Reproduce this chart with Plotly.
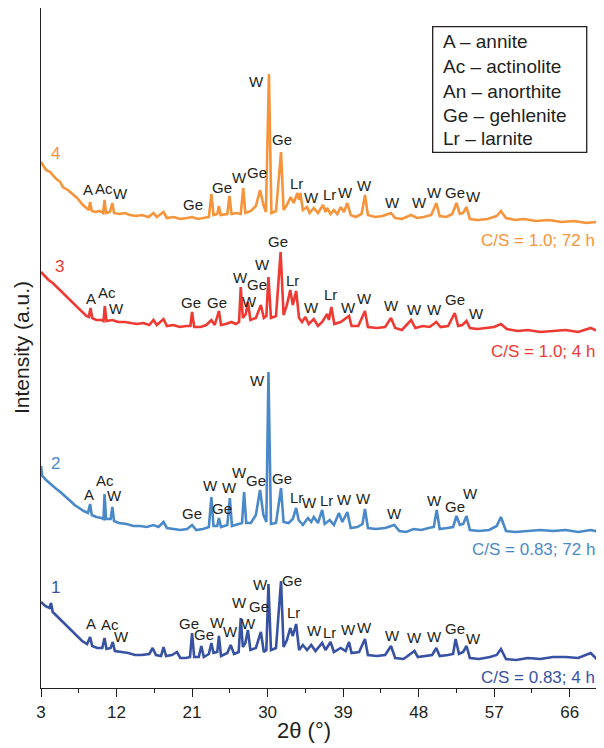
import plotly.graph_objects as go

# XRD patterns, 2theta (deg) vs intensity (a.u., curves stacked with offsets)
theta_4 = [3.0, 3.6, 4.1, 4.7, 5.3, 5.6, 6.2, 6.7, 7.3, 8.0, 8.5, 8.7, 8.85, 9.05, 9.5, 10.0,
           10.4, 10.57, 10.75, 11.2, 11.5, 11.7, 12.3, 13.0, 13.6, 14.3, 15.0, 15.8, 16.4,
           16.8, 17.6, 18.0, 18.8, 19.6, 20.4, 21.0, 21.7, 22.5, 23.0, 23.31, 23.55, 24.0,
           24.2, 24.4, 25.2, 25.46, 25.7, 26.3, 26.8, 27.1, 27.35, 28.0, 28.6, 29.1, 29.5,
           29.8, 30.16, 30.45, 31.0, 31.6, 31.9, 32.3, 32.75, 33.1, 33.55, 33.75, 33.9, 34.2,
           34.7, 35.0, 35.5, 36.0, 36.6, 36.9, 37.1, 37.5, 37.9, 38.3, 38.7, 39.1, 39.5, 39.9,
           40.5, 41.2, 41.6, 41.95, 42.8, 43.7, 44.7, 45.2, 46.0, 47.1, 47.8, 48.6, 49.5,
           50.1, 50.5, 51.3, 52.0, 52.5, 52.9, 53.3, 53.7, 54.1, 55.0, 56.2, 57.3, 57.8, 58.4,
           59.5, 60.5, 62.0, 63.5, 65.0, 66.5, 68.0, 69.0, 70.1]
int_4 = [526, 518, 516, 510, 506, 501, 498, 494, 490, 483, 480, 478, 486, 477, 476, 477,
         475, 488, 475, 476, 485, 475, 474, 475, 473, 472, 473, 471, 475,
         471, 476, 470, 471, 469, 470, 471, 469, 470, 471, 494, 473, 474,
         482, 473, 474, 492, 474, 475, 474, 500, 475, 477, 482, 498, 483,
         476, 614, 475, 477, 536, 478, 483, 491, 485, 495, 488, 495, 478,
         481, 475, 480, 475, 483, 476, 480, 474, 478, 474, 481, 476, 485, 473,
         471, 474, 493, 473, 471, 472, 475, 470, 469, 473, 470, 471, 473,
         485, 472, 471, 474, 485, 474, 475, 481, 469, 468, 469, 472, 477, 470,
         468, 469, 467, 468, 466, 467, 465, 466, 465]

theta_3 = [3.0, 3.4, 3.9, 4.4, 4.9, 5.4, 5.9, 6.4, 6.9, 7.4, 7.9, 8.4, 8.7, 8.9, 9.1, 9.6,
           10.2, 10.45, 10.6, 10.8, 11.5, 12.2, 13.0, 13.6, 14.4, 15.2, 15.9, 16.4, 16.8,
           17.6, 18.0, 18.8, 19.5, 20.3, 20.8, 21.0, 21.25, 22.0, 22.7, 23.3, 23.7, 24.2,
           24.45, 25.0, 25.7, 26.2, 26.6, 26.8, 27.05, 27.4, 27.65, 27.95, 28.6, 29.2, 29.55,
           29.85, 30.1, 30.4, 31.0, 31.55, 31.9, 32.3, 32.7, 33.0, 33.4, 33.75, 34.1, 34.5,
           34.9, 35.5, 36.0, 36.5, 37.1, 37.3, 37.6, 37.95, 38.7, 39.7, 40.0, 40.8, 41.6,
           41.95, 43.0, 44.0, 44.7, 45.2, 46.0, 47.1, 47.6, 48.5, 49.3, 50.1, 50.6, 51.5,
           52.3, 52.7, 53.2, 53.7, 54.1, 55.0, 56.0, 57.0, 57.8, 58.5, 59.8, 61.0, 62.5,
           64.0, 65.5, 67.0, 68.5, 69.3, 70.1]
int_3 = [416, 412, 408, 405, 401, 397, 393, 389, 385, 380, 376, 372, 371, 380, 370, 368,
         368, 367, 382, 367, 368, 366, 366, 365, 364, 365, 363, 368, 363,
         369, 362, 363, 361, 362, 362, 376, 361, 361, 363, 368, 363, 377,
         363, 364, 366, 364, 366, 401, 370, 374, 386, 368, 370, 383, 370,
         372, 411, 370, 372, 436, 373, 383, 398, 383, 397, 370, 366, 371,
         364, 369, 362, 366, 374, 368, 381, 364, 366, 372, 362, 362, 377,
         361, 360, 361, 370, 360, 358, 368, 360, 362, 361, 366, 361, 362,
         375, 362, 363, 367, 360, 359, 360, 361, 364, 359, 357, 358, 356,
         357, 358, 356, 360, 357, 355]

theta_2 = [3.0, 3.15, 3.6, 4.1, 4.7, 5.3, 5.9, 6.5, 7.0, 7.5, 8.1, 8.6, 8.85, 9.05, 9.6,
           10.2, 10.45, 10.57, 10.75, 11.3, 11.5, 11.7, 12.3, 13.2, 14.0, 14.8, 15.6, 16.4,
           17.0, 17.6, 18.0, 18.8, 19.6, 20.4, 21.0, 21.5, 22.3, 23.0, 23.3, 23.55, 24.0,
           24.2, 24.45, 25.2, 25.5, 25.75, 26.5, 26.95, 27.2, 27.45, 28.0, 28.6, 29.1, 29.5,
           29.85, 30.1, 30.4, 31.0, 31.6, 31.9, 32.5, 33.0, 33.4, 33.7, 34.2, 34.8, 35.2,
           35.5, 36.0, 36.5, 36.8, 37.4, 37.9, 38.5, 38.9, 39.5, 39.9, 40.7, 41.3, 41.6,
           41.95, 42.9, 44.0, 45.1, 45.7, 46.5, 47.4, 48.3, 49.2, 49.8, 50.15, 50.5, 51.4,
           52.1, 52.5, 52.9, 53.3, 53.7, 54.1, 55.2, 56.4, 57.3, 57.8, 58.4, 59.5, 61.0,
           62.5, 64.0, 65.5, 67.0, 68.5, 70.1]
int_2 = [222, 212, 208, 204, 200, 196, 191, 187, 183, 180, 177, 175, 184, 173, 171,
         170, 169, 194, 169, 169, 181, 167, 165, 164, 162, 162, 161, 163,
         161, 166, 160, 159, 158, 159, 163, 158, 159, 161, 191, 162, 162,
         170, 161, 163, 190, 162, 164, 165, 196, 165, 165, 173, 198, 173,
         166, 316, 164, 165, 200, 166, 165, 169, 180, 168, 163, 170, 166,
         171, 165, 178, 164, 168, 163, 175, 166, 176, 160, 161, 164, 179,
         160, 159, 160, 163, 157, 156, 159, 158, 160, 161, 178, 159, 160,
         161, 172, 163, 164, 172, 158, 157, 158, 162, 171, 157, 156, 157,
         158, 157, 158, 156, 158, 155]

theta_1 = [3.0, 3.5, 4.0, 4.2, 4.4, 5.0, 5.5, 6.1, 6.7, 7.3, 7.9, 8.5, 8.85, 9.1, 9.7,
           10.3, 10.57, 10.8, 11.3, 11.55, 11.8, 12.6, 13.4, 14.2, 15.0, 15.9, 16.3, 16.7,
           17.3, 17.6, 17.9, 18.6, 19.2, 19.6, 20.3, 20.75, 21.0, 21.25, 21.8, 22.1, 22.4,
           23.0, 23.3, 23.55, 24.0, 24.2, 24.45, 25.2, 25.6, 26.0, 26.55, 26.8, 27.05, 27.35,
           27.65, 27.95, 28.6, 29.2, 29.55, 29.85, 30.1, 30.4, 31.0, 31.6, 31.9, 32.3, 32.7,
           33.0, 33.4, 33.75, 34.2, 34.7, 35.2, 35.7, 36.5, 36.9, 37.5, 37.9, 38.7, 39.3,
           39.7, 40.0, 40.9, 41.6, 41.95, 43.0, 44.0, 44.7, 45.2, 46.2, 47.5, 47.9, 48.8,
           49.6, 50.1, 50.5, 51.5, 52.1, 52.4, 52.8, 53.3, 53.7, 54.1, 55.2, 56.5, 57.3,
           57.8, 58.4, 59.6, 61.0, 62.5, 64.0, 65.5, 67.0, 68.5, 69.2, 70.1]
int_1 = [86, 82, 80, 85, 76, 71, 66, 61, 56, 51, 47, 44, 51, 42, 40,
         40, 50, 39, 40, 46, 37, 36, 35, 33, 33, 34, 40, 33,
         32, 41, 32, 33, 36, 30, 30, 31, 55, 31, 31, 42, 31,
         34, 45, 35, 36, 52, 32, 35, 43, 34, 36, 70, 41, 45,
         58, 38, 40, 56, 36, 38, 104, 38, 40, 107, 41, 48, 60,
         52, 64, 38, 43, 38, 43, 37, 45, 38, 46, 36, 40, 37,
         46, 35, 36, 49, 33, 32, 33, 42, 30, 29, 37, 31, 32,
         33, 40, 32, 33, 34, 49, 34, 36, 42, 30, 29, 31, 33,
         39, 29, 28, 30, 29, 31, 31, 30, 35, 29, 28]

# phase labels: (text, 2theta, intensity)
peaks_4 = [("A", 8.65, 499), ("Ac", 10.54, 500), ("W", 12.43, 495), ("Ge", 21.07, 484),
           ("Ge", 24.53, 501), ("W", 26.65, 511), ("Ge", 28.75, 516), ("W", 28.70, 607),
           ("Ge", 31.75, 549), ("Lr", 33.47, 505), ("W", 35.23, 491), ("Lr", 37.35, 494),
           ("W", 39.30, 496), ("W", 41.52, 503), ("W", 44.86, 486), ("W", 48.04, 486),
           ("W", 49.94, 496), ("Ge", 52.33, 496), ("W", 54.51, 492)]
peaks_3 = [("A", 8.96, 390), ("Ac", 10.83, 396), ("W", 12.02, 380), ("Ge", 20.84, 386),
           ("Ge", 23.93, 386), ("W", 26.71, 411), ("W", 27.90, 387), ("Ge", 28.77, 404),
           ("W", 29.45, 424), ("Ge", 31.24, 447), ("Lr", 32.99, 408), ("W", 35.25, 381),
           ("Lr", 37.55, 394), ("W", 39.61, 381), ("W", 41.60, 390), ("W", 44.78, 383),
           ("W", 47.56, 379), ("W", 49.94, 379), ("Ge", 52.33, 389), ("W", 54.83, 375)]
peaks_2 = [("A", 8.75, 194), ("Ac", 10.63, 208), ("W", 11.70, 193), ("Ge", 21.03, 175),
           ("W", 23.14, 203), ("Ge", 24.53, 180), ("W", 25.40, 201), ("W", 26.63, 216),
           ("Ge", 28.62, 208), ("W", 28.85, 308), ("Ge", 31.75, 210), ("Lr", 33.47, 191),
           ("W", 35.05, 186), ("Lr", 36.96, 188), ("W", 39.22, 189), ("W", 41.40, 190),
           ("W", 45.09, 175), ("W", 49.94, 188), ("Ge", 52.33, 182), ("W", 54.12, 195)]
peaks_1 = [("A", 8.92, 65), ("Ac", 11.22, 64), ("W", 12.61, 52), ("Ge", 20.67, 65),
           ("Ge", 22.4, 54), ("W", 24.0, 66), ("W", 25.52, 57), ("W", 26.63, 86),
           ("W", 27.75, 65), ("Ge", 28.95, 82), ("W", 29.2, 104), ("Ge", 32.9, 108),
           ("Lr", 33.06, 76), ("W", 35.53, 58), ("Lr", 37.35, 56), ("W", 39.61, 59),
           ("W", 41.60, 61), ("W", 44.86, 53), ("W", 47.56, 51), ("W", 49.94, 52),
           ("Ge", 52.33, 60), ("W", 54.51, 50)]

sample_numbers = ["4", "3", "2", "1"]
number_pos = [(4.67, 535), (5.18, 422), (4.67, 225), (4.67, 101)]
conditions = ["C/S = 1.0; 72 h", "C/S = 1.0; 4 h", "C/S = 0.83; 72 h", "C/S = 0.83; 4 h"]
condition_y = [448, 337, 139, 11]
colors = ["#F5943A", "#EE3A33", "#4A89C9", "#3752A3"]

phase_key = ["A – annite", "Ac – actinolite", "An – anorthite", "Ge – gehlenite",
             "Lr – larnite"]

FONT = "Liberation Sans, Arial, sans-serif"
INK = "#231F20"

fig = go.Figure()
curves = [(theta_4, int_4), (theta_3, int_3), (theta_2, int_2), (theta_1, int_1)]
for (tt, ii), col in zip(curves, colors):
    fig.add_trace(go.Scatter(x=tt, y=ii, mode="lines",
                             line=dict(color=col, width=2.6),
                             showlegend=False, hoverinfo="skip"))

annotations = []
for peaks in [peaks_4, peaks_3, peaks_2, peaks_1]:
    for txt, tx, ty in peaks:
        annotations.append(dict(x=tx, y=ty, text=txt, showarrow=False,
                                font=dict(size=15, color=INK, family=FONT),
                                xanchor="center", yanchor="middle"))

for num, (nx, ny), col in zip(sample_numbers, number_pos, colors):
    annotations.append(dict(x=nx, y=ny, text=num, showarrow=False,
                            font=dict(size=17, color=col, family=FONT),
                            xanchor="center", yanchor="middle"))

for txt, cy, col in zip(conditions, condition_y, colors):
    annotations.append(dict(x=0.987, xref="paper", y=cy, text=txt, showarrow=False,
                            font=dict(size=17, color=col, family=FONT),
                            xanchor="right", yanchor="middle"))

# key box text
key_y = [0.9505, 0.9138, 0.8770, 0.8426, 0.8084]
for txt, ky in zip(phase_key, key_y):
    annotations.append(dict(x=0.710, xref="paper", y=ky, yref="paper", text=txt,
                            showarrow=False, xanchor="left", yanchor="middle",
                            font=dict(size=19, color=INK, family=FONT)))

# axis titles
annotations.append(dict(x=34.3, y=0, yref="paper", yshift=-42, text="2θ (°)",
                        showarrow=False, xanchor="center", yanchor="middle",
                        font=dict(size=22, color=INK, family=FONT)))
annotations.append(dict(x=0, xref="paper", xshift=-20, y=0.5, yref="paper",
                        text="Intensity (a.u.)", textangle=-90, showarrow=False,
                        xanchor="center", yanchor="middle",
                        font=dict(size=21, color=INK, family=FONT)))

# page body has an 8 px margin, so the figure is 8 px smaller than the window
fig.update_layout(
    width=596, height=740,
    margin=dict(l=33, r=0, t=0, b=60),
    paper_bgcolor="white", plot_bgcolor="white",
    annotations=annotations,
    shapes=[dict(type="rect", xref="paper", yref="paper",
                 x0=0.6957, x1=0.9693, y0=0.7878, y1=0.9725,
                 line=dict(color=INK, width=1.3), fillcolor="white",
                 layer="below")],
    xaxis=dict(range=[3, 70.08], tick0=3, dtick=9, ticks="outside", ticklen=8,
               tickwidth=1.3, tickcolor=INK, showline=True,
               linecolor=INK, linewidth=1.3, showgrid=False, zeroline=False,
               tickfont=dict(size=17, color=INK, family=FONT),
               minor=dict(dtick=4.5, tick0=3, ticks="outside", ticklen=4,
                          tickwidth=1.3, tickcolor=INK, showgrid=False)),
    yaxis=dict(range=[0, 680], showticklabels=False, ticks="", showline=True,
               linecolor=INK, linewidth=1.3, showgrid=False, zeroline=False),
)

fig.write_html("out.html", config={"displayModeBar": False})
